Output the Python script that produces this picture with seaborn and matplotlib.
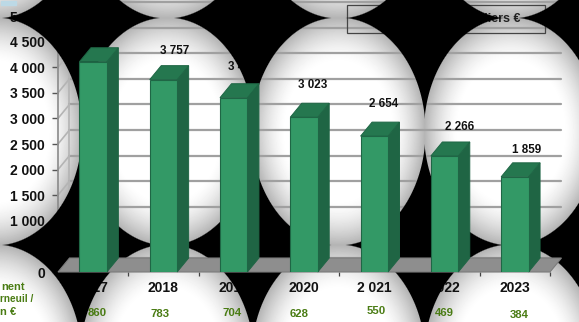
import numpy as np
import matplotlib
matplotlib.use("Agg")
import matplotlib.pyplot as plt
from matplotlib.patches import Rectangle
from matplotlib.transforms import Affine2D
import seaborn as sns

# Chart data
years = ["2017", "2018", "2019", "2020", "2 021", "2022", "2023"]
totals = [4107, 3757, 3404, 3023, 2654, 2266, 1859]
yearly = [860, 783, 704, 628, 550, 469, 384]
axis_values = [0, 1000, 1500, 2000, 2500, 3000, 3500, 4000, 4500, 5000]
row_caption = ["nent", "rneuil /", "n €"]
legend_text = "Montant en milliers €"

# Colours
FRONT, SIDE, TOP, EDGE = "#339966", "#1f6544", "#25774f", "#1f6645"
GRID, FLOOR, GREEN = "#a0a0a0", "#8e8e8e", "#4a7c14"

W, H = 579, 322
sns.set_theme(style="white")
plt.rcParams["font.family"] = ["Liberation Sans", "DejaVu Sans"]

fig = plt.figure(figsize=(W / 100, H / 100), dpi=100)
fig.patch.set_facecolor("white")
to_fig = Affine2D().scale(1 / W, -1 / H).translate(0, 1) + fig.transFigure


def plot_box(left, top, right, bottom):
    return [left / W, 1 - bottom / H, (right - left) / W, (bottom - top) / H]


# Repeating pattern of soft white ellipses on black
yy, xx = np.mgrid[0:H, 0:W] + 0.5
radius = np.full((H, W), np.inf)
for cx in (-5, 167, 338.5, 511, 683):
    for cy in (-95.5, 131.5, 358.5):
        radius = np.minimum(radius, np.hypot((xx - cx) / 87, (yy - cy) / 114))

backdrop = fig.add_axes([0, 0, 1, 1], zorder=0)
shade = 1 - 0.3 * np.clip((radius - 0.6) / 0.4, 0, 1) ** 1.6
backdrop.imshow(shade, cmap="gray", vmin=0, vmax=1, aspect="auto", interpolation="bilinear")
backdrop.axis("off")
backdrop.add_patch(Rectangle((0, 0), 15, 5, color="#bcd9e6"))

# Value axis, walls, grid and all labels
ax = fig.add_axes(plot_box(58, 16, 550, 272), zorder=1)
ax.patch.set_alpha(0)
ax.set_xlim(-0.5, 6.5)
ax.set_ylim(0, 5000)
for side in ax.spines.values():
    side.set_visible(False)
DX, DY = 11.5 / 70.3, 14 / 0.0512

for v in axis_values:
    ax.plot([-0.5 + DX, 6.5 + DX], [v + DY, v + DY], color=GRID, lw=1.6, clip_on=False, zorder=1)
    ax.plot([-0.5, -0.5 + DX], [v, v + DY], color="#b4b4b4", lw=1.2, clip_on=False, zorder=1)
ax.plot([-0.5, -0.5], [0, 5000], color="#8a8a8a", lw=1.2, clip_on=False)
ax.plot([-0.5 + DX] * 2, [DY, 5000 + DY], color="#b4b4b4", lw=1.2, clip_on=False)

ax.set_yticks(axis_values, [f"{v:,}".replace(",", " ") for v in axis_values])
ax.set_xticks(np.arange(-0.5, 7), [""] * 8)
ax.tick_params(axis="y", length=4, width=1, color="#555555", pad=5.5, labelsize=10, left=True)
ax.tick_params(axis="x", length=3, width=0.9, color="#444444", bottom=True)
for label in ax.get_yticklabels():
    label.set_fontweight("bold")
    label.set_color("#111111")

for i, year in enumerate(years):
    ax.annotate(year, (i, 0), xytext=(0, -16), textcoords="offset pixels", ha="center", va="center",
                fontsize=10, fontweight="bold", color="#111111", annotation_clip=False)

label_nudges = [(12, 30), (11, 29), (9, 31), (9, 32), (9, 32), (15, 29), (12, 27)]
for i, (v, (nx, ny)) in enumerate(zip(totals, label_nudges)):
    ax.annotate(f"{v:,}".replace(",", " "), (i, v), xytext=(nx, ny), textcoords="offset pixels",
                ha="center", va="center", fontsize=8.4, fontweight="bold", color="#111111",
                annotation_clip=False)

row_nudges = [4, -3, -2, -5, 2, 0, 4]
row_heights = [313, 314, 313, 314, 311, 313, 315]
for i, (v, nx, py) in enumerate(zip(yearly, row_nudges, row_heights)):
    ax.annotate(str(v), (i, 0), xytext=(nx, 272 - py), textcoords="offset pixels", ha="center",
                va="center", fontsize=8.2, fontweight="bold", color=GREEN, annotation_clip=False)

for line, px, py, size in zip(row_caption, (1.5, 0.5, 0.5), (287, 299.5, 312), (8, 7.3, 8)):
    ax.text(px, py, line, transform=to_fig, ha="left", va="center", fontsize=size,
            fontweight="bold", color=GREEN, clip_on=False)

# Legend frame, swatch and caption
ax.add_patch(Rectangle((347, 5), 198, 28, transform=to_fig, fill=False, ec="#444444", lw=0.9, clip_on=False))
ax.add_patch(Rectangle((390, 17), 5, 5, transform=to_fig, color=FRONT, clip_on=False))
ax.text(520, 19.5, legend_text, transform=to_fig, ha="right", va="center", fontsize=9,
        fontweight="bold", color="#222222", clip_on=False)

# Black field left between the ellipses
mask = fig.add_axes([0, 0, 1, 1], zorder=2)
rgba = np.zeros((H, W, 4))
rgba[..., 3] = np.clip((radius - 1) * 90 + 0.5, 0, 1)
mask.imshow(rgba, aspect="auto", interpolation="bilinear")
mask.axis("off")

# Floor and 3D columns sit in front of the black field
front = fig.add_axes(plot_box(58, 16, 550, 272), zorder=3)
front.patch.set_alpha(0)
BAR = 0.39
sns.barplot(x=years, y=totals, ax=front, width=BAR, color=FRONT, saturation=1,
            edgecolor=EDGE, linewidth=0.8, zorder=3)
front.set_xlim(-0.5, 6.5)
front.set_ylim(0, 5000)
front.fill([-0.5, 6.5, 6.5 + DX, -0.5 + DX], [0, 0, DY, DY], color=FLOOR, ec="#7c7c7c", lw=0.8,
           zorder=1, clip_on=False)
for i, v in enumerate(totals):
    x0, x1 = i - BAR / 2, i + BAR / 2
    front.fill([x1, x1 + DX, x1 + DX, x1], [0, DY, v + DY, v], color=SIDE, ec=EDGE, lw=0.7,
               zorder=2, clip_on=False)
    front.fill([x0, x1, x1 + DX, x0 + DX], [v, v, v + DY, v + DY], color=TOP, ec=EDGE, lw=0.7,
               zorder=2, clip_on=False)
front.axis("off")

fig.savefig("out.png", dpi=100)
